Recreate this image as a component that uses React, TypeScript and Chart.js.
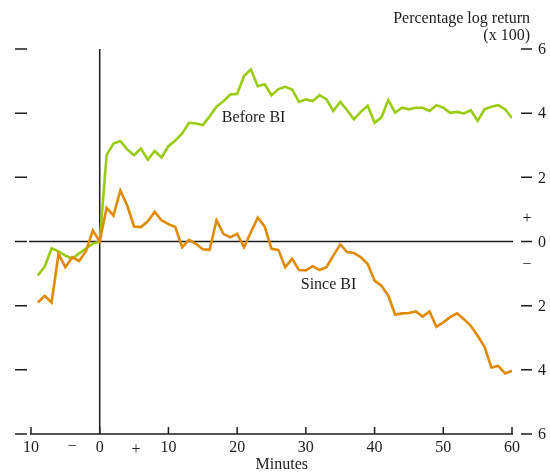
import React, { useEffect, useRef } from "react";
import { Chart, registerables } from "chart.js";

Chart.register(...registerables);

// Minutes relative to the announcement
const minutes = [
  -9, -8, -7, -6, -5, -4, -3, -2, -1, 0, 1, 2, 3, 4, 5, 6, 7, 8, 9, 10,
  11, 12, 13, 14, 15, 16, 17, 18, 19, 20, 21, 22, 23, 24, 25, 26, 27, 28, 29, 30,
  31, 32, 33, 34, 35, 36, 37, 38, 39, 40, 41, 42, 43, 44, 45, 46, 47, 48, 49, 50,
  51, 52, 53, 54, 55, 56, 57, 58, 59, 60,
];

// Cumulative percentage log return (x 100)
const beforeBI = [
  -1.06, -0.78, -0.21, -0.31, -0.44, -0.53, -0.37, -0.22, -0.07, 0, 2.69, 3.05, 3.13, 2.87, 2.69, 2.9, 2.55, 2.82, 2.62, 2.97,
  3.15, 3.37, 3.7, 3.68, 3.63, 3.9, 4.2, 4.37, 4.58, 4.6, 5.16, 5.36, 4.84, 4.9, 4.56, 4.75, 4.82, 4.74, 4.35, 4.43,
  4.38, 4.56, 4.43, 4.07, 4.35, 4.09, 3.81, 4.04, 4.23, 3.7, 3.87, 4.41, 4.02, 4.17, 4.12, 4.17, 4.17, 4.07, 4.25, 4.17,
  4.01, 4.04, 3.99, 4.09, 3.76, 4.12, 4.2, 4.25, 4.12, 3.85,
];

const sinceBI = [
  -1.9, -1.69, -1.9, -0.39, -0.8, -0.49, -0.61, -0.3, 0.34, 0, 1.05, 0.81, 1.59, 1.12, 0.47, 0.45, 0.63, 0.92, 0.66, 0.54,
  0.45, -0.18, 0.05, -0.07, -0.24, -0.26, 0.66, 0.24, 0.13, 0.24, -0.18, 0.29, 0.74, 0.47, -0.23, -0.26, -0.8, -0.54, -0.89, -0.9,
  -0.77, -0.89, -0.8, -0.44, -0.09, -0.33, -0.36, -0.49, -0.7, -1.22, -1.38, -1.69, -2.28, -2.24, -2.23, -2.18, -2.34, -2.18, -2.66, -2.52,
  -2.36, -2.24, -2.42, -2.63, -2.94, -3.28, -3.93, -3.88, -4.11, -4.03,
];

// Axis ticks and their printed labels
const xTickValues = [-10, 0, 10, 20, 30, 40, 50, 60];
const xTickLabels = ["10", "0", "10", "20", "30", "40", "50", "60"];
const yTickValues = [6, 4, 2, 0, -2, -4, -6];
const yTickLabels = ["6", "4", "2", "0", "2", "4", "6"];

const FONT = '16px "Liberation Serif", "Times New Roman", serif';
const INK = "#1c1c1c";
const GREEN = "#99cc11";
const ORANGE = "#e08a00";

const framePlugin = {
  id: "frame",
  beforeDatasetsDraw(chart: any) {
    const { ctx, chartArea, scales } = chart;
    const x = scales.x;
    const y = scales.y;
    ctx.save();
    ctx.strokeStyle = INK;
    ctx.lineWidth = 1.5;
    const xl = x.getPixelForValue(-10);
    const xr = x.getPixelForValue(60);
    const yb = y.getPixelForValue(-6);
    const yt = y.getPixelForValue(6);
    const y0 = y.getPixelForValue(0);
    const x0 = x.getPixelForValue(0);

    ctx.beginPath();
    // zero return line
    ctx.moveTo(xl - 2, y0);
    ctx.lineTo(xr + 1, y0);
    // announcement time
    ctx.moveTo(x0, yt);
    ctx.lineTo(x0, yb);
    // bottom axis
    ctx.moveTo(xl - 1, yb);
    ctx.lineTo(xr + 1, yb);
    ctx.stroke();

    ctx.beginPath();
    xTickValues.forEach((v) => {
      const px = x.getPixelForValue(v);
      ctx.moveTo(px, yb);
      ctx.lineTo(px, yb - 7);
    });
    // side dashes
    yTickValues.forEach((v) => {
      const py = y.getPixelForValue(v);
      ctx.moveTo(chartArea.left - 16, py);
      ctx.lineTo(chartArea.left - 4, py);
      ctx.moveTo(chartArea.right + 9, py);
      ctx.lineTo(chartArea.right + 20, py);
    });
    ctx.stroke();
    ctx.restore();
  },
  afterDraw(chart: any) {
    const { ctx, chartArea, scales } = chart;
    const x = scales.x;
    const y = scales.y;
    ctx.save();
    ctx.fillStyle = INK;
    ctx.font = FONT;
    ctx.textBaseline = "middle";

    // right-hand value labels
    ctx.textAlign = "left";
    yTickValues.forEach((v, i) => {
      ctx.fillText(yTickLabels[i], chartArea.right + 26, y.getPixelForValue(v) + 1);
    });
    ctx.textAlign = "center";
    ctx.fillText("+", chartArea.right + 15, y.getPixelForValue(0.72));
    ctx.fillText("\u2212", chartArea.right + 15, y.getPixelForValue(-0.72));

    // bottom labels
    const yb = y.getPixelForValue(-6);
    xTickValues.forEach((v, i) => {
      ctx.fillText(xTickLabels[i], x.getPixelForValue(v), yb + 14);
    });
    ctx.fillText("\u2212", x.getPixelForValue(-4), yb + 13);
    ctx.fillText("+", x.getPixelForValue(5.3), yb + 16);
    ctx.fillText("Minutes", x.getPixelForValue(26.5), yb + 31);

    // axis title
    ctx.textAlign = "right";
    ctx.fillText("Percentage log return", chartArea.right + 18, 19);
    ctx.fillText("(x 100)", chartArea.right + 18, 36);

    // series names
    ctx.textAlign = "center";
    ctx.fillText("Before BI", x.getPixelForValue(22.4), y.getPixelForValue(3.87));
    ctx.fillText("Since BI", x.getPixelForValue(33.3), y.getPixelForValue(-1.34));
    ctx.restore();
  },
};

export default function App() {
  const canvasRef = useRef<HTMLCanvasElement | null>(null);

  useEffect(() => {
    if (!canvasRef.current) return;
    const chart = new Chart(canvasRef.current, {
      type: "line",
      data: {
        datasets: [
          {
            label: "Since BI",
            data: minutes.map((m, i) => ({ x: m, y: sinceBI[i] })),
            borderColor: ORANGE,
            borderWidth: 2.6,
            pointRadius: 0,
            tension: 0,
          },
          {
            label: "Before BI",
            data: minutes.map((m, i) => ({ x: m, y: beforeBI[i] })),
            borderColor: GREEN,
            borderWidth: 2.6,
            pointRadius: 0,
            tension: 0,
          },
        ],
      },
      options: {
        animation: false,
        responsive: false,
        layout: { padding: { left: 31, right: 38, top: 49, bottom: 42 } },
        plugins: { legend: { display: false }, tooltip: { enabled: false } },
        scales: {
          x: { type: "linear", min: -10, max: 60, display: false },
          y: { type: "linear", min: -6, max: 6, display: false },
        },
      },
      plugins: [framePlugin],
    });
    return () => chart.destroy();
  }, []);

  return (
    <div style={{ position: "fixed", left: 0, top: 0, width: 550, height: 476, background: "#fff" }}>
      <canvas ref={canvasRef} width={550} height={476} />
    </div>
  );
}
